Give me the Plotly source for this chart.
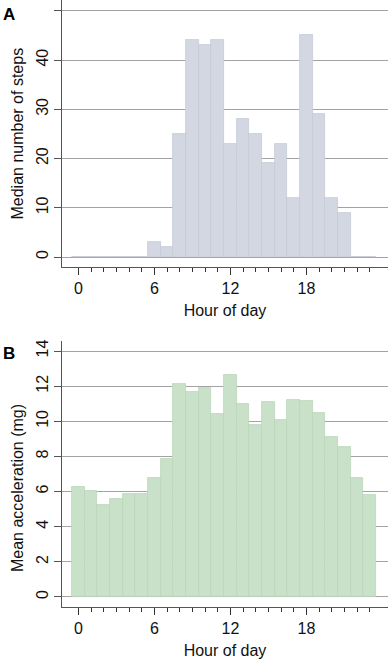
import plotly.graph_objects as go

hours = list(range(24))
steps_median = [0, 0, 0, 0, 0, 0, 3, 2, 25, 44, 43, 44, 23, 28, 25, 19, 23, 12, 45, 29, 12, 9, 0, 0]
accel_mean = [6.26, 6.02, 5.26, 5.58, 5.86, 5.85, 6.79, 7.85, 12.11, 11.64, 11.88, 10.4, 12.62,
              10.96, 9.81, 11.07, 10.07, 11.21, 11.17, 10.45, 9.08, 8.55, 6.79, 5.81]
x_ticks = [0, 6, 12, 18]
y1_ticks = [0, 10, 20, 30, 40, 50]
y2_ticks = [0, 2, 4, 6, 8, 10, 12, 14]

FONT = "Liberation Sans, Arial, Helvetica, sans-serif"
W, H = 388, 659
ml, mr, mt, mb = 62, 0, 0, 52
ph = H - mt - mb
pw = W - ml - mr
top_dom = [1 - 267 / ph, 1]
bot_dom = [0, (ph - 341) / ph]

fig = go.Figure()
fig.add_trace(go.Bar(x=hours, y=steps_median, width=1,
                     marker=dict(color="#d3d7e2", line=dict(color="#c4c9d6", width=0.8)),
                     xaxis="x", yaxis="y", showlegend=False, hoverinfo="x+y"))
fig.add_trace(go.Bar(x=hours, y=accel_mean, width=1,
                     marker=dict(color="#c9e0c9", line=dict(color="#b9d5b9", width=0.8)),
                     xaxis="x2", yaxis="y2", showlegend=False, hoverinfo="x+y"))

xcommon = dict(range=[-1.29, 24.44], tickmode="array", tickvals=x_ticks,
               ticktext=[str(v) for v in x_ticks], ticks="outside", ticklen=7,
               tickcolor="#333", tickwidth=1.2, showline=True, linecolor="#555", linewidth=1.2,
               showgrid=False, zeroline=False, automargin=False,
               tickfont=dict(family=FONT, size=16, color="#111"),
               minor=dict(tickmode="array", tickvals=hours, ticks="outside", ticklen=4,
                          tickcolor="#333", tickwidth=1.2, showgrid=False),
               title=dict(text="Hour of day", font=dict(family=FONT, size=16, color="#111"),
                          standoff=8))
ycommon = dict(ticks="outside", ticklen=7, tickcolor="#555", tickwidth=1,
               showline=True, linecolor="#555", linewidth=1.2, showgrid=True,
               gridcolor="#a3a3a3", gridwidth=1.2, zeroline=False, tickangle=-90,
               automargin=False,
               tickfont=dict(family=FONT, size=16, color="#111"), tickmode="array")


def px_x(x):
    return (x - ml) / pw


def px_y(y):
    return 1 - (y - mt) / ph


title_font = dict(family=FONT, size=16, color="#111")
panel_font = dict(family=FONT, size=17, color="#000")

fig.update_layout(
    width=W, height=H, margin=dict(l=ml, r=mr, t=mt, b=mb),
    paper_bgcolor="white", plot_bgcolor="white", bargap=0,
    font=dict(family=FONT, size=16, color="#111"),
    xaxis=dict(domain=[0, 1], anchor="y", **xcommon),
    yaxis=dict(domain=top_dom, anchor="x", range=[-2.03, 52.2], tickvals=y1_ticks, **ycommon),
    xaxis2=dict(domain=[0, 1], anchor="y2", **xcommon),
    yaxis2=dict(domain=bot_dom, anchor="x2", range=[-0.57, 14.57], tickvals=y2_ticks, **ycommon),
    annotations=[
        dict(text="<b>A</b>", xref="paper", yref="paper", x=px_x(8.5), y=px_y(14),
             xanchor="center", yanchor="middle", showarrow=False, font=panel_font),
        dict(text="<b>B</b>", xref="paper", yref="paper", x=px_x(8.5), y=px_y(353),
             xanchor="center", yanchor="middle", showarrow=False, font=panel_font),
        dict(text="Median number of steps", xref="paper", yref="paper", x=px_x(17), y=px_y(133.5),
             xanchor="center", yanchor="middle", textangle=-90, showarrow=False, font=title_font),
        dict(text="Mean acceleration (mg)", xref="paper", yref="paper", x=px_x(17), y=px_y(488),
             xanchor="center", yanchor="middle", textangle=-90, showarrow=False, font=title_font),
    ],
)

fig.write_html("out.html", config={"displayModeBar": False},
               post_script="document.body.style.margin='0';document.body.style.overflow='hidden';")
